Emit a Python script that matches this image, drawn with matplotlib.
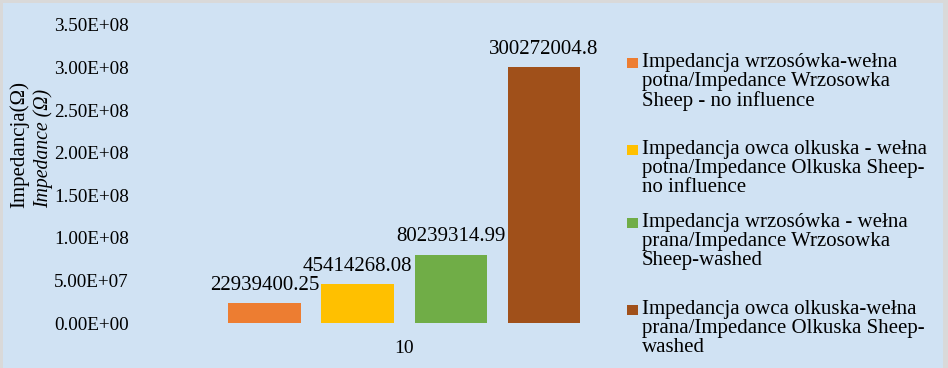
import matplotlib
matplotlib.use("Agg")
import matplotlib.pyplot as plt
from matplotlib.patches import Rectangle

categories = ["10"]
series_labels = [
    "Impedancja wrzosówka-wełna\npotna/Impedance Wrzosowka\nSheep - no influence",
    "Impedancja owca olkuska - wełna\npotna/Impedance Olkuska Sheep-\nno influence",
    "Impedancja wrzosówka - wełna\nprana/Impedance Wrzosowka\nSheep-washed",
    "Impedancja owca olkuska-wełna\nprana/Impedance Olkuska Sheep-\nwashed",
]
series_values = [22939400.25, 45414268.08, 80239314.99, 300272004.8]
value_labels = ["22939400.25", "45414268.08", "80239314.99", "300272004.8"]
colors = ["#ED7D31", "#FFC000", "#70AD47", "#A0501A"]
y_ticks = [0, 5e7, 1e8, 1.5e8, 2e8, 2.5e8, 3e8, 3.5e8]

plt.rcParams['font.family'] = ['Liberation Serif', 'DejaVu Serif']

W, H = 948, 368
fig = plt.figure(figsize=(W / 100, H / 100), dpi=100)
bg = "#D0E2F3"
fig.patch.set_facecolor("#D9D9D9")
fig.add_artist(Rectangle((3 / W, 0), (W - 8) / W, (H - 3) / H, transform=fig.transFigure,
                         facecolor=bg, edgecolor="none", zorder=0))

left_px, right_px = 140, 620
bot_px, top_px = 323, 25
ax = fig.add_axes([left_px / W, (H - bot_px) / H, (right_px - left_px) / W, (bot_px - top_px) / H])
ax.set_facecolor("none")
for s in ax.spines.values():
    s.set_visible(False)

bar_w = 0.78
x = list(range(len(series_values)))
for i, (v, c, lab) in enumerate(zip(series_values, colors, value_labels)):
    ax.bar(x[i], v, width=bar_w, color=c, label=series_labels[i])
    ax.annotate(lab, (x[i], v), xytext=(0, 6), textcoords="offset points",
                ha="center", va="bottom", fontsize=15)

px_per_unit = 93.2
c0 = 264.5
ax.set_xlim((left_px - c0) / px_per_unit, (right_px - c0) / px_per_unit)
ax.set_ylim(0, 3.5e8)
ax.set_yticks(y_ticks)
ax.set_yticklabels(["%.2E" % t for t in y_ticks], fontsize=13.8)
ax.set_xticks([(len(series_values) - 1) / 2])
ax.set_xticklabels(categories, fontsize=14)
ax.tick_params(axis="y", length=0, pad=8)
ax.tick_params(axis="x", length=0, pad=12)

fig.text(19 / W, 1 - 144 / H, "Impedancja(Ω)", rotation=90, ha="center", va="center", fontsize=15)
fig.text(43 / W, 1 - 148 / H, "Impedance (Ω)", rotation=90, ha="center", va="center",
         fontsize=14.2, style="italic")

# manual legend: marker aligned with the first line of each entry
marker_tops = [58, 145, 218, 305]
for i, lab in enumerate(series_labels):
    yt = marker_tops[i]
    fig.add_artist(Rectangle((627 / W, 1 - (yt + 10) / H), 11 / W, 10 / H,
                             transform=fig.transFigure, facecolor=colors[i],
                             edgecolor="none"))
    fig.text(642 / W, 1 - (yt - 5) / H, lab, ha="left", va="top", fontsize=15,
             linespacing=1.0)

fig.savefig("out.png", dpi=100, facecolor=fig.get_facecolor())
